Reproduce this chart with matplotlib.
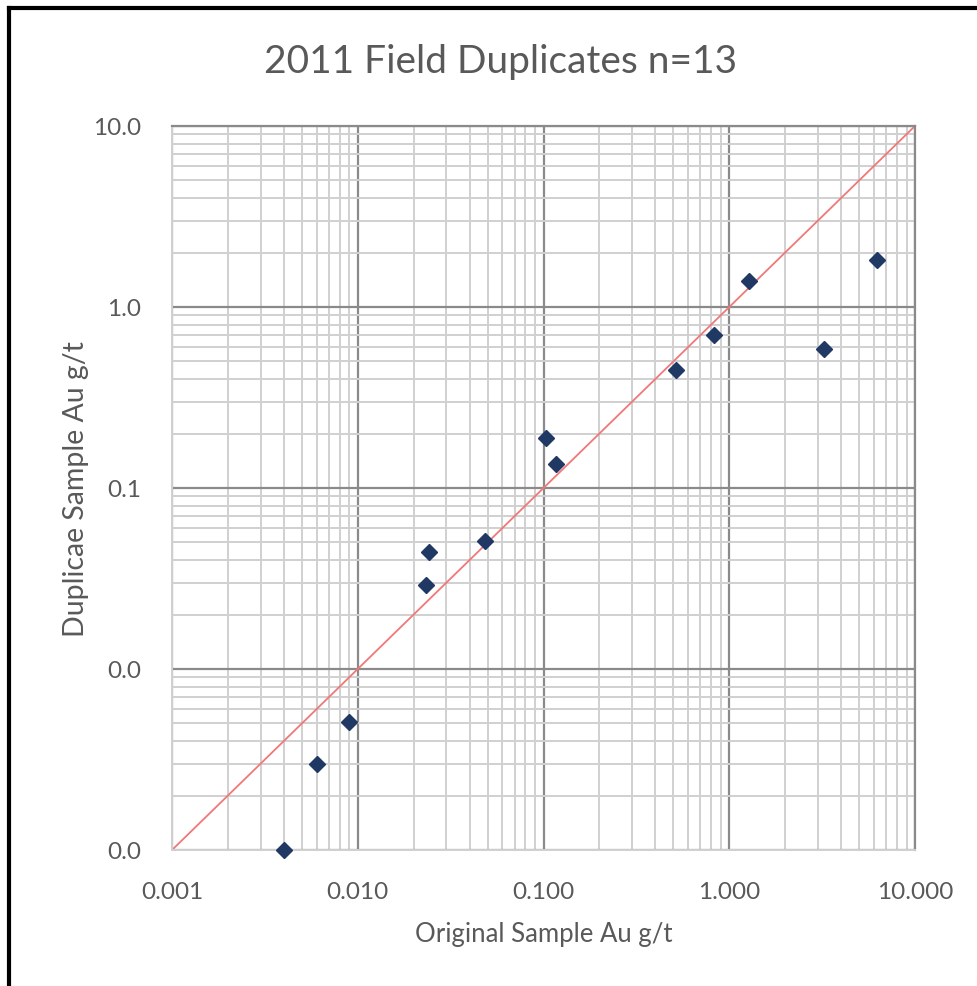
import matplotlib
matplotlib.use("Agg")
import matplotlib.pyplot as plt
from matplotlib.ticker import FixedLocator, FuncFormatter, LogLocator, NullFormatter
from matplotlib.lines import Line2D
import numpy as np

# values
original = [0.0040, 0.0060, 0.0090, 0.0233, 0.0242, 0.0484, 0.103, 0.117,
            0.516, 0.828, 1.28, 3.24, 6.24]
duplicate = [0.0010, 0.0030, 0.0051, 0.0291, 0.0443, 0.0509, 0.189, 0.136,
             0.449, 0.700, 1.39, 0.586, 1.82]
ticks = [0.001, 0.01, 0.1, 1, 10]
one_to_one = [0.001, 10]

txt = "#595959"
plt.rcParams['font.family'] = ['Lato', 'DejaVu Sans']

fig = plt.figure(figsize=(9.77, 9.87), dpi=100)
ax = fig.add_axes([172/977, 1-851/987, 743/977, 724/987])

ax.set_xscale("log")
ax.set_yscale("log")
ax.set_xlim(0.001, 10)
ax.set_ylim(0.001, 10)

# grid like excel: dark majors, light minors
ax.xaxis.set_major_locator(FixedLocator(ticks))
ax.yaxis.set_major_locator(FixedLocator(ticks))
ax.xaxis.set_minor_locator(LogLocator(base=10, subs=np.arange(2, 10)))
ax.yaxis.set_minor_locator(LogLocator(base=10, subs=np.arange(2, 10)))
ax.xaxis.set_minor_formatter(NullFormatter())
ax.yaxis.set_minor_formatter(NullFormatter())
ax.grid(which="minor", color="#d0d0d0", lw=1.4, zorder=0)
ax.grid(which="major", color="#8a8a8a", lw=1.6, zorder=0)
ax.set_axisbelow(True)
ax.tick_params(which="both", length=0)
ax.tick_params(axis="x", pad=22, labelsize=17.5, labelcolor=txt)
ax.tick_params(axis="y", pad=22, labelsize=17.5, labelcolor=txt)
ax.xaxis.set_major_formatter(FuncFormatter(lambda v, p: "{:.3f}".format(v)))
ax.yaxis.set_major_formatter(FuncFormatter(lambda v, p: "{:.1f}".format(v)))

for side in ["left", "bottom"]:
    ax.spines[side].set_color("#d0d0d0")
    ax.spines[side].set_linewidth(1.4)
for side in ["top", "right"]:
    ax.spines[side].set_color("#8a8a8a")
    ax.spines[side].set_linewidth(1.6)

ax.plot(one_to_one, one_to_one, color="#f07878", lw=1.3, zorder=2)
ax.plot(original, duplicate, "D", color="#1f3864", ms=8, zorder=3, clip_on=False)

ax.set_xlabel("Original Sample Au g/t", fontsize=18.5, color=txt, labelpad=14)
ax.set_ylabel("Duplicae Sample Au g/t", fontsize=20.5, color=txt, labelpad=3)
fig.text(500/977, 1-62/987, "2011 Field Duplicates n=13", fontsize=28,
         color=txt, ha="center", va="center")

# black frame (only left and top edges show)
fig.add_artist(Line2D([9/977, 9/977], [0, 1-9/987], color="black", lw=3,
                      transform=fig.transFigure))
fig.add_artist(Line2D([9/977, 1], [1-9/987, 1-9/987], color="black", lw=3,
                      transform=fig.transFigure))

fig.savefig("out.png", dpi=100)
